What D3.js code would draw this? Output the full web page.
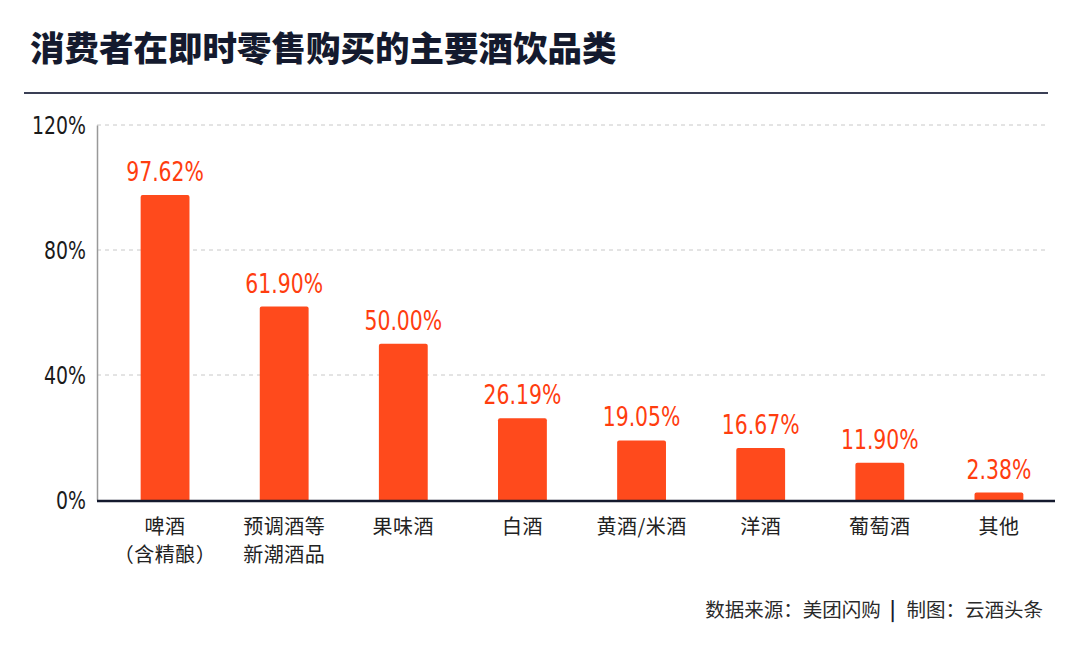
<!DOCTYPE html>
<html>
<head>
<meta charset="utf-8">
<script src="https://cdn.jsdelivr.net/npm/d3@7"></script>
<style>
  body { margin: 0; background: #fff; }
  svg { display: block; }
  .num { font-family: "Liberation Sans Narrow", "DejaVu Sans Condensed", "Noto Sans", sans-serif; }
  .cjk { font-family: "Noto Sans CJK SC", "Noto Sans", sans-serif; }
</style>
</head>
<body>
<svg id="chart" width="1080" height="647"></svg>
<script>
const categories = [["啤酒", "（含精酿）"], ["预调酒等", "新潮酒品"], ["果味酒"], ["白酒"], ["黄酒/米酒"], ["洋酒"], ["葡萄酒"], ["其他"]];
const values = [97.62, 61.90, 50.00, 26.19, 19.05, 16.67, 11.90, 2.38];
const yTicks = [0, 40, 80, 120];

const svg = d3.select("#chart");
const ink = "#141a2e";
const orange = "#ff4a1c";
const squeeze = 0.84; // numbers in the original use a narrow face

// title + rule
svg.append("text")
  .attr("class", "cjk")
  .attr("x", 30).attr("y", 61)
  .attr("font-size", 34.5).attr("font-weight", 900)
  .attr("fill", ink)
  .text("消费者在即时零售购买的主要酒饮品类");

svg.append("line")
  .attr("x1", 24).attr("x2", 1048)
  .attr("y1", 93).attr("y2", 93)
  .attr("stroke", "#3a3f55").attr("stroke-width", 2);

const labels = categories.map(d => d.join(""));

const x = d3.scaleBand()
  .domain(labels)
  .range([105.5, 1058.5])
  .paddingInner(0.59)
  .paddingOuter(0.295);

const y = d3.scaleLinear()
  .domain([0, 120])
  .range([500, 125]);

// grid
svg.append("g")
  .selectAll("line")
  .data(yTicks.filter(d => d > 0))
  .join("line")
  .attr("x1", 97).attr("x2", 1048)
  .attr("y1", d => y(d)).attr("y2", d => y(d))
  .attr("stroke", "#c8c8c8")
  .attr("stroke-dasharray", "4,4");

// y axis
const yAxis = svg.append("g")
  .attr("transform", "translate(97,0)")
  .call(d3.axisLeft(y).tickValues(yTicks).tickFormat(d => d + "%").tickSize(0).tickPadding(0));
yAxis.select(".domain").attr("stroke", "#999").attr("stroke-width", 1.5);
yAxis.selectAll(".tick text")
  .attr("class", "num")
  .attr("x", null)
  .attr("font-size", 25)
  .attr("font-weight", 500)
  .attr("fill", "#1a1a1a")
  .attr("transform", `translate(-11,0) scale(${squeeze},1)`);

// bars
svg.append("g")
  .selectAll("path")
  .data(values)
  .join("path")
  .attr("fill", orange)
  .attr("d", (d, i) => {
    const x0 = x(labels[i]), w = x.bandwidth(), t = y(d), b = y(0), r = 2;
    return `M${x0},${b}V${t + r}Q${x0},${t} ${x0 + r},${t}H${x0 + w - r}Q${x0 + w},${t} ${x0 + w},${t + r}V${b}Z`;
  });

// value labels
svg.append("g")
  .selectAll("text")
  .data(values)
  .join("text")
  .attr("class", "num")
  .attr("transform", (d, i) => `translate(${x(labels[i]) + x.bandwidth() / 2},${y(d) - 14}) scale(${squeeze},1)`)
  .attr("text-anchor", "middle")
  .attr("font-size", 27)
  .attr("font-weight", 500)
  .attr("fill", "#ff3d0f")
  .text(d => d.toFixed(2) + "%");

// baseline
svg.append("line")
  .attr("x1", 97).attr("x2", 1055)
  .attr("y1", y(0) + 1).attr("y2", y(0) + 1)
  .attr("stroke", ink).attr("stroke-width", 2.5);

// category labels
const cat = svg.append("g")
  .selectAll("text")
  .data(categories)
  .join("text")
  .attr("class", "cjk")
  .attr("x", (d, i) => x(labels[i]) + x.bandwidth() / 2)
  .attr("y", 534)
  .attr("text-anchor", "middle")
  .attr("font-size", 20)
  .attr("letter-spacing", 0.5)
  .attr("fill", "#222");
cat.selectAll("tspan")
  .data(d => d)
  .join("tspan")
  .attr("x", function () { return d3.select(this.parentNode).attr("x"); })
  .attr("dy", (d, i) => i ? 28 : 0)
  .text(d => d);

// source
const src = svg.append("text")
  .attr("class", "cjk")
  .attr("x", 1043).attr("y", 617)
  .attr("text-anchor", "end")
  .attr("font-size", 19.5)
  .attr("fill", "#2a2a2a");
src.append("tspan").text("数据来源：美团闪购");
src.append("tspan").attr("dx", 9).attr("font-weight", 700).attr("fill", ink).text("|");
src.append("tspan").attr("dx", 11).text("制图：云酒头条");
</script>
</body>
</html>
